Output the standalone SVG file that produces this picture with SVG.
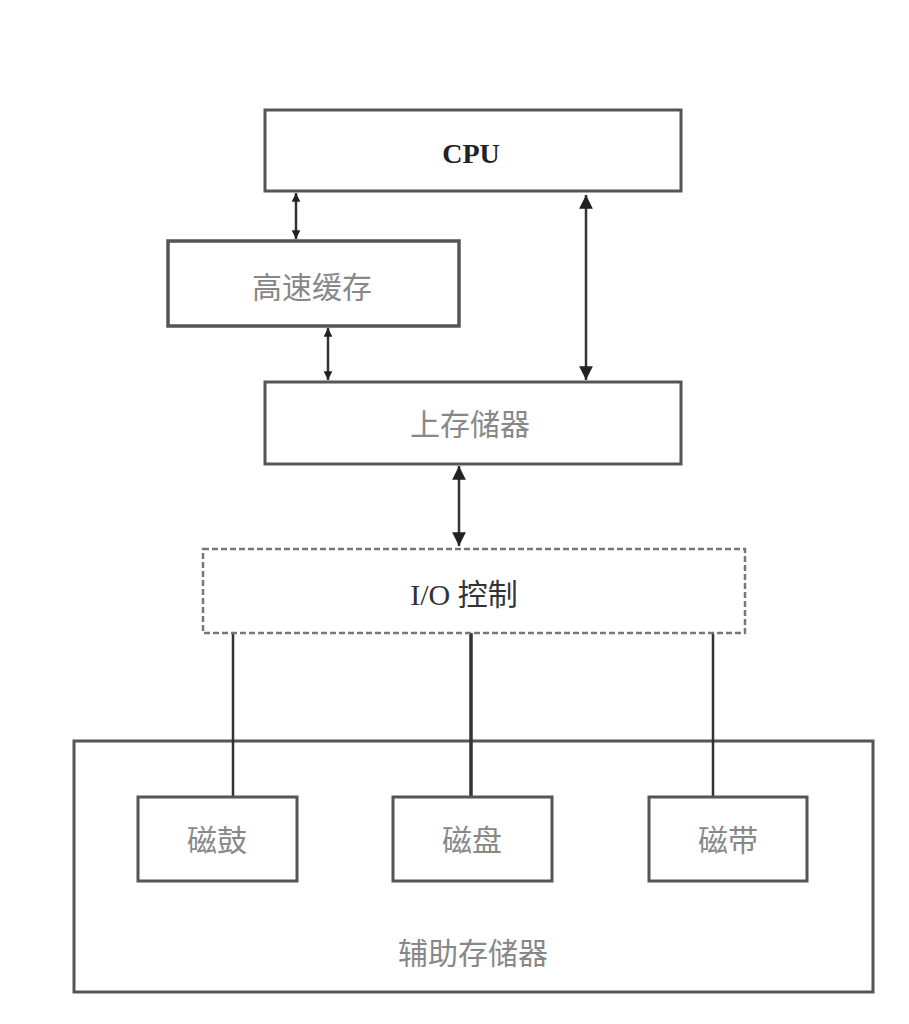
<svg xmlns="http://www.w3.org/2000/svg" width="909" height="1024" viewBox="0 0 909 1024">
<style>
.box{fill:#fff;stroke:#555;stroke-width:3}
.dash{fill:#fff;stroke:#777;stroke-width:2.5;stroke-dasharray:6 3}
.lbl{font-family:"Liberation Serif","Noto Sans CJK SC",serif;font-size:30px;fill:#888;text-anchor:middle;dominant-baseline:central}
.dark{fill:#222}
.ln{stroke:#333;stroke-width:2.5;fill:none}
</style>
<defs>
<marker id="ah" viewBox="0 0 10 10" refX="10" refY="5" markerWidth="5.5" markerHeight="5.5" orient="auto-start-reverse"><path d="M0,0L10,5L0,10z" fill="#222"/></marker>
<marker id="ahs" viewBox="0 0 10 10" refX="10" refY="5" markerWidth="3.5" markerHeight="3.5" orient="auto-start-reverse"><path d="M0,0L10,5L0,10z" fill="#222"/></marker>
</defs>
<rect width="909" height="1024" fill="#fff"/>
<g id="aux"><rect class="box" x="74" y="741" width="799" height="251"/><text class="lbl" x="473" y="953">辅助存储器</text></g>
<g id="connectors">
<line class="ln" x1="296" y1="193" x2="296" y2="239" marker-start="url(#ahs)" marker-end="url(#ahs)"/>
<line class="ln" x1="328" y1="328" x2="328" y2="380" marker-start="url(#ahs)" marker-end="url(#ahs)"/>
<line class="ln" x1="586" y1="195" x2="586" y2="380" marker-start="url(#ah)" marker-end="url(#ah)"/>
<line class="ln" x1="459" y1="466" x2="459" y2="546" marker-start="url(#ah)" marker-end="url(#ah)"/>
<line class="ln" x1="233" y1="633" x2="233" y2="796"/>
<line class="ln" x1="471" y1="633" x2="471" y2="796" style="stroke-width:3.5"/>
<line class="ln" x1="713" y1="633" x2="713" y2="796"/>
</g>
<g id="cpu"><rect class="box" x="265" y="110" width="416" height="81"/><text class="lbl dark" x="471" y="153" style="font-weight:bold;font-size:28px">CPU</text></g>
<g id="cache"><rect class="box" x="168" y="241" width="291" height="85" style="stroke-width:3.5"/><text class="lbl" x="312" y="287">高速缓存</text></g>
<g id="main"><rect class="box" x="265" y="382" width="416" height="82"/><text class="lbl" x="470" y="424">上存储器</text></g>
<g id="io"><rect class="dash" x="203" y="549" width="542" height="84"/><text class="lbl dark" x="464" y="594" style="fill:#333">I/O 控制</text></g>
<g id="drum"><rect class="box" x="138" y="797" width="159" height="84"/><text class="lbl" x="217" y="840">磁鼓</text></g>
<g id="disk"><rect class="box" x="393" y="797" width="159" height="84"/><text class="lbl" x="472" y="840">磁盘</text></g>
<g id="tape"><rect class="box" x="649" y="797" width="158" height="84"/><text class="lbl" x="728" y="840">磁带</text></g>
</svg>
